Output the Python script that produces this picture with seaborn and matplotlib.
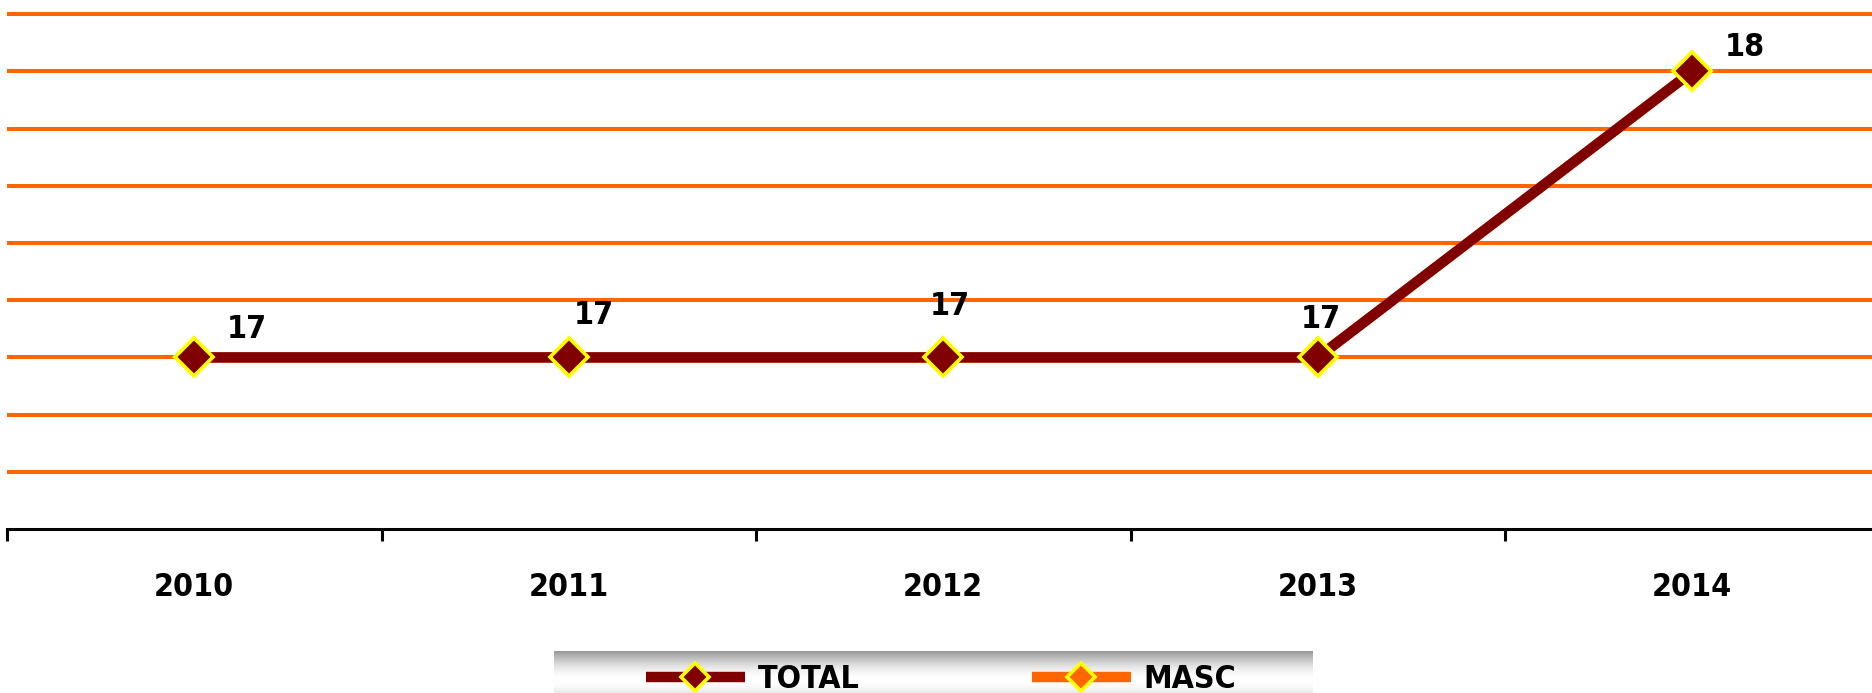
import numpy as np
import pandas as pd
import matplotlib
matplotlib.use("Agg")
import matplotlib.pyplot as plt
from matplotlib import font_manager as fm
from matplotlib.lines import Line2D
import seaborn as sns

# ---- data ----
years = ["2010", "2011", "2012", "2013", "2014"]
total = [17, 17, 17, 17, 18]
masc = [17, 17, 17, 17, 18]
label_offsets_pt = [(38, 20), (18, 30), (5, 37), (2, 27), (38, 17)]

sns.set_theme(style="white")
plt.rcParams["font.family"] = ["DejaVu Sans"]
plt.rcParams["text.color"] = "black"


def pick_font():
    files = [f.fname for f in fm.fontManager.ttflist]
    prefs = ["DejaVuSansCondensed-Bold", "LiberationSansNarrow-Bold", "DejaVuSans-Bold"]
    for p in prefs:
        for f in files:
            if f.split("/")[-1].startswith(p + "."):
                return f
    return None


font_file = pick_font()


def fp(size):
    if font_file:
        return fm.FontProperties(fname=font_file, size=size)
    return fm.FontProperties(family="DejaVu Sans", weight="bold", size=size)


W, H = 1872, 693
fig = plt.figure(figsize=(W / 100, H / 100), dpi=100)
fig.patch.set_facecolor("white")

ax_left = 7 / W
ax_bottom = (H - 529) / H
ax_w = 1872.5 / W
ax_h = 529 / H
ax = fig.add_axes([ax_left, ax_bottom, ax_w, ax_h])
ax.set_facecolor("white")

df = pd.DataFrame({"year": years, "TOTAL": total, "MASC": masc})

MS = 19.5
MEW = 2.6
sns.lineplot(data=df, x="year", y="MASC", ax=ax, color="#FF6600", linewidth=7.5,
             marker="D", markersize=MS, markerfacecolor="#FF6600",
             markeredgecolor="#FFFF00", markeredgewidth=MEW, zorder=3, sort=False)
sns.lineplot(data=df, x="year", y="TOTAL", ax=ax, color="#800000", linewidth=7.5,
             marker="D", markersize=MS, markerfacecolor="#800000",
             markeredgecolor="#FFFF00", markeredgewidth=MEW, zorder=4, sort=False)

ax.set_xlim(-0.5, 4.5)
ax.set_ylim(16.4, 18.25)
ax.set_yticks([16.6, 16.8, 17.0, 17.2, 17.4, 17.6, 17.8, 18.0, 18.2])
ax.set_yticklabels([])
ax.tick_params(axis="y", length=0)
ax.yaxis.grid(True, color="#FF6600", linewidth=2.9)
ax.xaxis.grid(False)
ax.set_axisbelow(True)

for s in ["top", "right", "left"]:
    ax.spines[s].set_visible(False)
ax.spines["bottom"].set_color("black")
ax.spines["bottom"].set_linewidth(2.2)

ax.set_xticks(range(len(years)))
ax.set_xticklabels(years)
ax.set_xticks([i - 0.5 for i in range(len(years))], minor=True)
ax.tick_params(axis="x", which="major", length=0, pad=31, bottom=True, labelcolor="black")
ax.tick_params(axis="x", which="minor", length=8.6, width=2.2, color="black",
               direction="out", bottom=True)
for lbl in ax.get_xticklabels():
    lbl.set_fontproperties(fp(23))
    lbl.set_color("black")
ax.set_xlabel("")
ax.set_ylabel("")
if ax.get_legend():
    ax.get_legend().remove()

for i, (y, v) in enumerate(zip(years, total)):
    ax.annotate(f"{v}", xy=(i, v), xytext=label_offsets_pt[i], textcoords="offset points",
                ha="center", va="center", fontproperties=fp(23), color="black", zorder=6)

# legend background gradient
lx0, lx1, ly0 = 554, 1313, 651
gax = fig.add_axes([lx0 / W, 0, (lx1 - lx0) / W, (H - ly0) / H])
n = H - ly0
t = np.linspace(0, n / 59.0, n)
shade = 0.6 + 0.4 * np.sin(np.pi * t)
img = np.repeat(shade[:, None], 10, axis=1)
rgb = np.dstack([img, img, img])
gax.imshow(rgb, aspect="auto", interpolation="bilinear")
gax.set_axis_off()

handles = [
    Line2D([], [], color="#800000", linewidth=7.5, marker="D", markersize=14,
           markerfacecolor="#800000", markeredgecolor="#FFFF00", markeredgewidth=2.6,
           solid_capstyle="butt"),
    Line2D([], [], color="#FF6600", linewidth=7.5, marker="D", markersize=14,
           markerfacecolor="#FF6600", markeredgecolor="#FFFF00", markeredgewidth=2.6,
           solid_capstyle="butt"),
]
leg = fig.legend(handles, ["TOTAL", "MASC"], loc="center", bbox_to_anchor=(941 / W, 13 / H),
                 ncol=2, frameon=False, prop=fp(23), handlelength=3.1, handletextpad=0.4,
                 columnspacing=5.4, borderpad=0, borderaxespad=0, labelcolor="black")
leg.set_zorder(10)

fig.savefig("out.png", dpi=100, facecolor="white")
